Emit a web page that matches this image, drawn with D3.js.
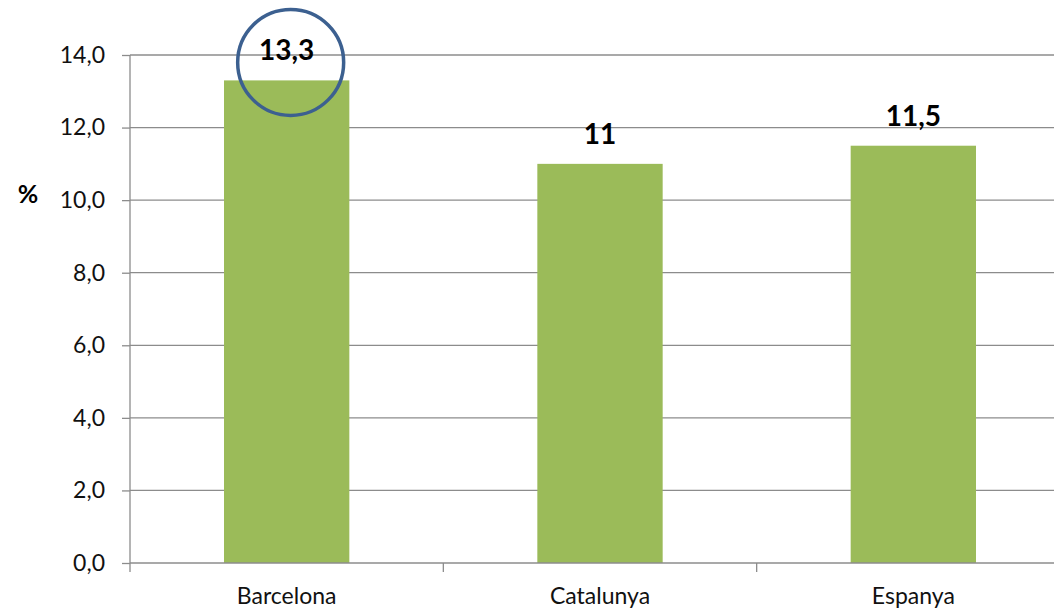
<!DOCTYPE html>
<html>
<head>
<meta charset="utf-8">
<script src="https://cdn.jsdelivr.net/npm/d3@7"></script>
<style>
  body { margin: 0; background: #fff; }
  text { font-family: Lato, "Open Sans", sans-serif; }
</style>
</head>
<body>
<script>
const width = 1054
const height = 611

const categories = ['Barcelona', 'Catalunya', 'Espanya']
const values = [13.3, 11, 11.5]
const valueLabels = ['13,3', '11', '11,5']
const yTicks = [0, 2, 4, 6, 8, 10, 12, 14]

const plotLeft = 130, plotRight = 1070, plotTop = 55, plotBottom = 563

const x = d3.scaleBand()
    .domain(categories)
    .range([plotLeft, plotRight])
    .paddingInner(0.6)
    .paddingOuter(0.3)

const y = d3.scaleLinear()
    .domain([0, 14])
    .range([plotBottom, plotTop])

const fmt = d => d.toFixed(1).replace('.', ',')

var svg = d3.select('body').append('svg')
    .attr('width', width)
    .attr('height', height)

// gridlines
svg.append('g').selectAll('line')
    .data(yTicks.filter(d => d > 0))
    .join('line')
    .attr('x1', plotLeft)
    .attr('x2', width)
    .attr('y1', d => y(d))
    .attr('y2', d => y(d))
    .style('stroke', '#8c8c8c')
    .style('stroke-width', 1.3)

// bars
svg.append('g').selectAll('rect')
    .data(values)
    .join('rect')
    .attr('x', (d, i) => x(categories[i]))
    .attr('y', d => y(d))
    .attr('width', x.bandwidth())
    .attr('height', d => y(0) - y(d))
    .style('fill', '#9bbb59')

// y axis
const yAxis = d3.axisLeft(y)
    .tickValues(yTicks)
    .tickFormat(fmt)
    .tickSize(8)
    .tickPadding(17)

const ya = svg.append('g')
    .attr('transform', `translate(${plotLeft},0)`)
    .call(yAxis)
ya.select('.domain').remove()
ya.selectAll('line').style('stroke', '#8c8c8c').style('stroke-width', 1.3)
ya.selectAll('text').style('font-size', '23px').style('fill', '#111')

svg.append('line')
    .attr('x1', plotLeft).attr('x2', plotLeft)
    .attr('y1', plotTop).attr('y2', plotBottom + 9)
    .style('stroke', '#8c8c8c')
    .style('stroke-width', 1.3)

// x axis
svg.append('line')
    .attr('x1', plotLeft).attr('x2', width)
    .attr('y1', plotBottom).attr('y2', plotBottom)
    .style('stroke', '#8c8c8c')
    .style('stroke-width', 1.3)

svg.append('g').selectAll('line')
    .data(categories.slice(1))
    .join('line')
    .attr('x1', d => x(d) - x.step() * x.paddingInner() / 2)
    .attr('x2', d => x(d) - x.step() * x.paddingInner() / 2)
    .attr('y1', plotBottom)
    .attr('y2', plotBottom + 9)
    .style('stroke', '#8c8c8c')
    .style('stroke-width', 1.3)

svg.append('g').selectAll('text')
    .data(categories)
    .join('text')
    .attr('x', d => x(d) + x.bandwidth() / 2)
    .attr('y', 604)
    .attr('text-anchor', 'middle')
    .style('font-size', '23px')
    .style('fill', '#111')
    .text(d => d)

// value labels
svg.append('g').selectAll('text')
    .data(values)
    .join('text')
    .attr('x', (d, i) => x(categories[i]) + x.bandwidth() / 2)
    .attr('y', d => y(d) - 20)
    .attr('text-anchor', 'middle')
    .style('font-size', '28px')
    .style('font-weight', 'bold')
    .style('fill', '#000')
    .text((d, i) => valueLabels[i])

// axis title
svg.append('text')
    .attr('x', 28)
    .attr('y', 203)
    .attr('text-anchor', 'middle')
    .style('font-size', '25px')
    .style('font-weight', 'bold')
    .text('%')

// highlight circle around Barcelona
svg.append('circle')
    .attr('cx', x('Barcelona') + x.bandwidth() / 2 + 4)
    .attr('cy', y(13.3) - 18)
    .attr('r', 53)
    .style('fill', 'none')
    .style('stroke', '#3c6090')
    .style('stroke-width', 3.5)
</script>
</body>
</html>
